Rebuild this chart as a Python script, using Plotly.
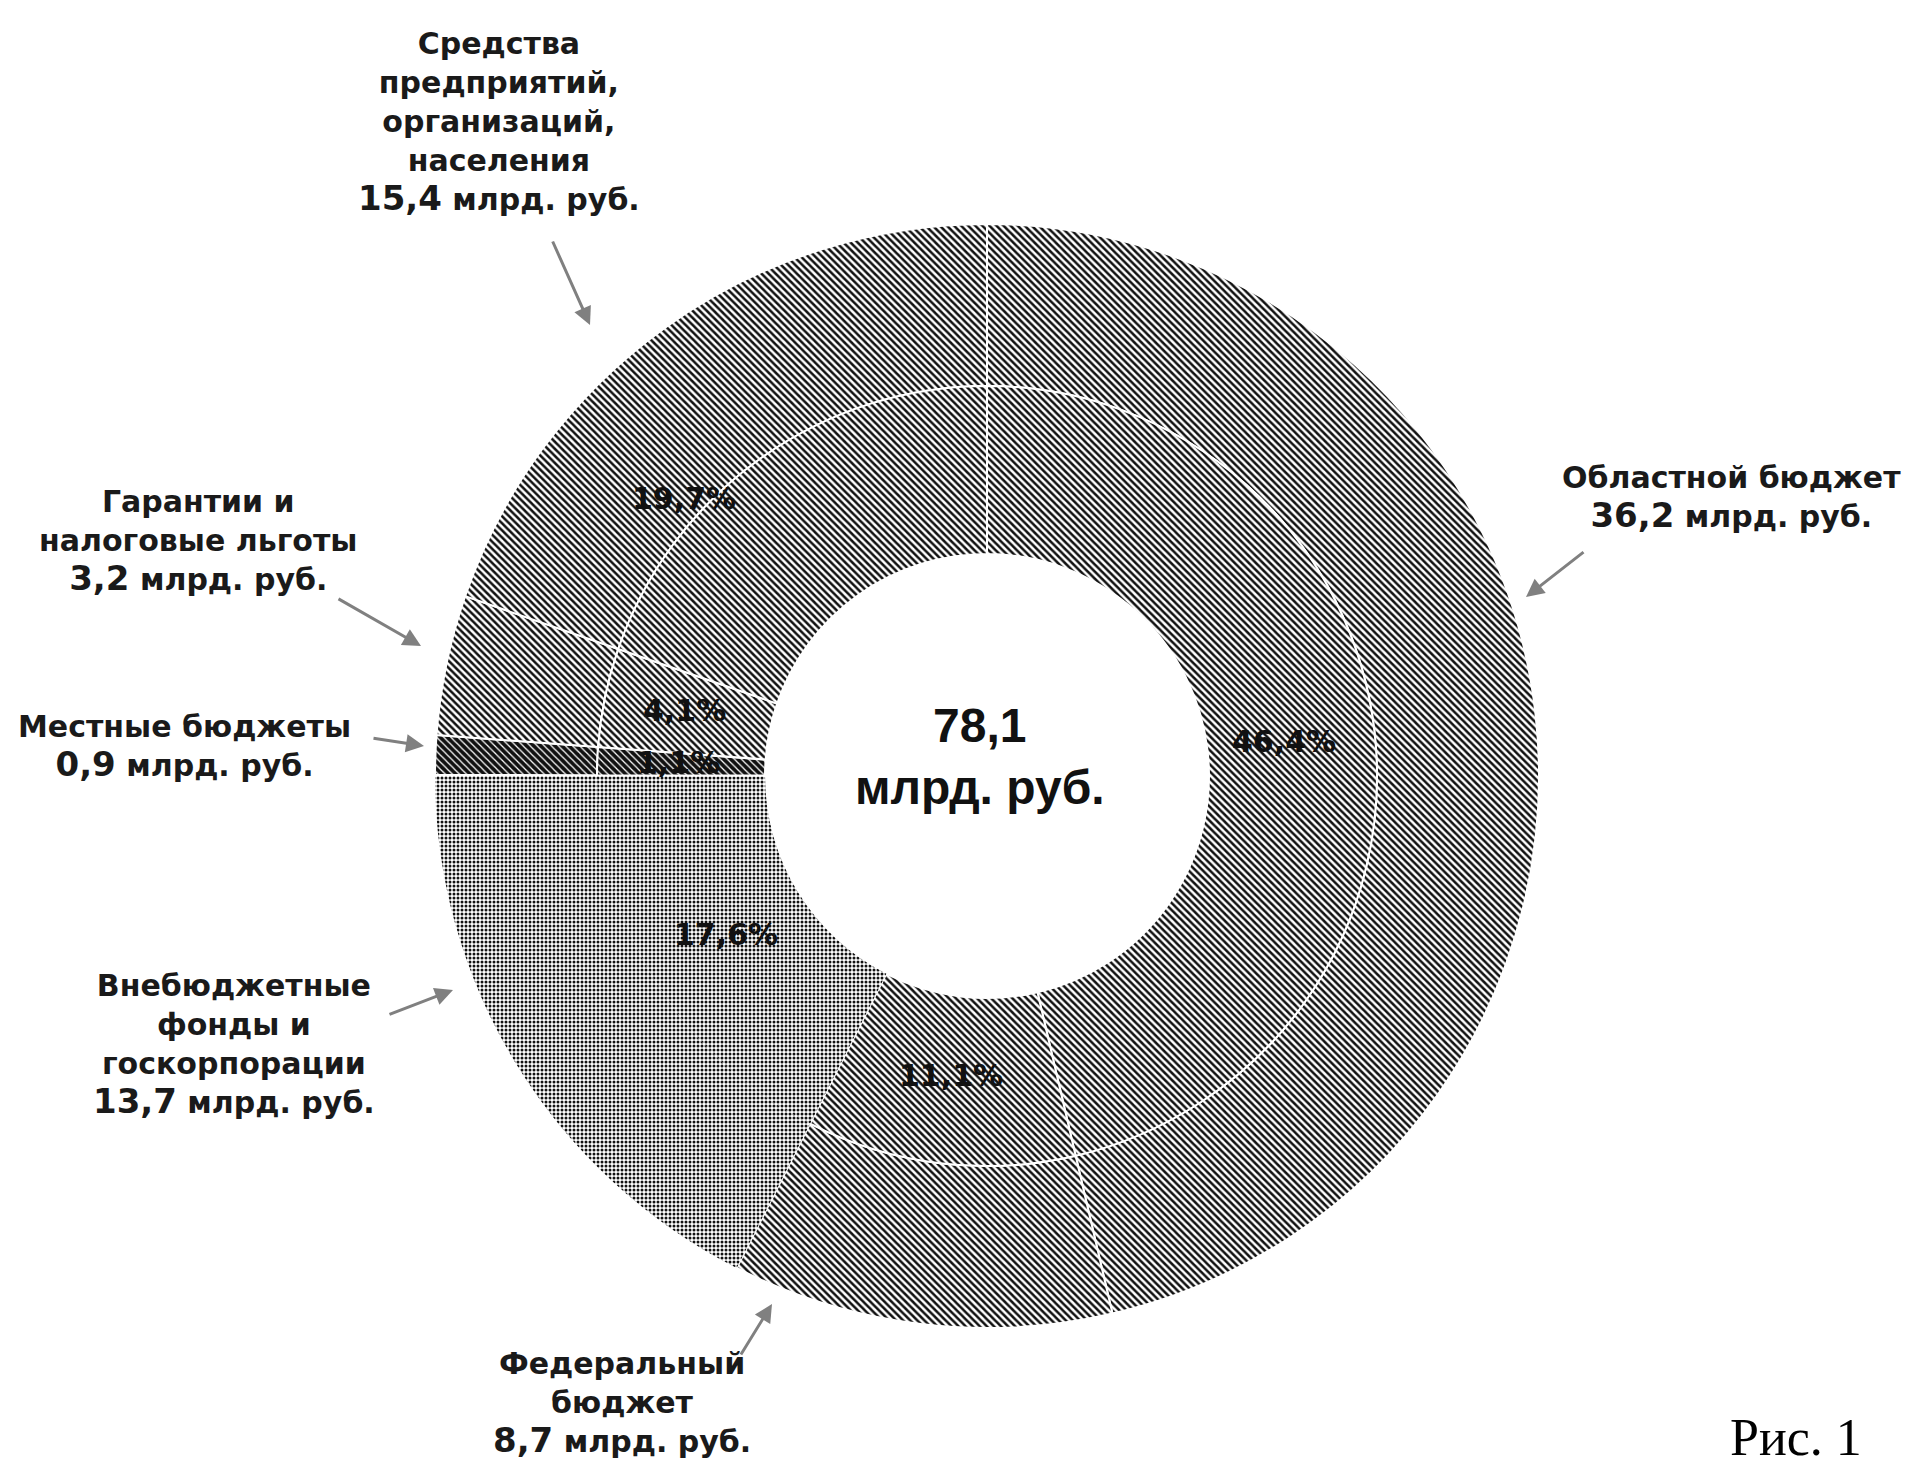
import plotly.graph_objects as go

# ---------------- data ----------------
categories = [
    "Областной бюджет",
    "Федеральный бюджет",
    "Внебюджетные фонды и госкорпорации",
    "Местные бюджеты",
    "Гарантии и налоговые льготы",
    "Средства предприятий, организаций, населения",
]
amounts = [36.2, 8.7, 13.7, 0.9, 3.2, 15.4]          # млрд. руб.
shares = [46.4, 11.1, 17.6, 1.1, 4.1, 19.7]           # %
total = 78.1
label_lines = [
    ["Областной бюджет"],
    ["Федеральный", "бюджет"],
    ["Внебюджетные", "фонды и", "госкорпорации"],
    ["Местные бюджеты"],
    ["Гарантии и", "налоговые льготы"],
    ["Средства", "предприятий,", "организаций,", "населения"],
]

# ---------------- styles ----------------
W, H = 1914, 1469
FONT = "DejaVu Sans, Verdana, sans-serif"
pat_shape = ["\\", "\\", ".", "\\", "\\", "\\"]
pat_solid = [0.5, 0.5, 0.45, 0.75, 0.5, 0.5]
pat_size = [5, 5, 4, 5, 5, 5]
line_w = [2, 2, 0, 2, 2, 2]


def fx(x):
    return x / W


def fy(y):
    return 1 - y / H


def fmt(v):
    return f"{v:.1f}".replace(".", ",")


cx, cy = 987, 776
R_out, R_mid, R_in = 552, 390, 222

marker = dict(
    colors=["white"] * len(amounts),
    line=dict(color="white", width=line_w),
    pattern=dict(shape=pat_shape, solidity=pat_solid, size=pat_size,
                 fgcolor="#111111", bgcolor="white", fillmode="replace"),
)

fig = go.Figure()
fig.add_trace(go.Pie(
    values=amounts, labels=categories, sort=False, direction="clockwise",
    rotation=0, hole=R_mid / R_out, marker=marker, textinfo="none",
    showlegend=False,
    domain=dict(x=[fx(cx - R_out), fx(cx + R_out)], y=[fy(cy + R_out), fy(cy - R_out)]),
))
fig.add_trace(go.Pie(
    values=amounts, labels=categories, sort=False, direction="clockwise",
    rotation=0, hole=R_in / R_mid, marker=marker, textinfo="none",
    showlegend=False,
    domain=dict(x=[fx(cx - R_mid), fx(cx + R_mid)], y=[fy(cy + R_mid), fy(cy - R_mid)]),
))

# percentage labels on the inner ring (pixel positions as in the reference)
pct_pos = [(1284, 741), (951, 1075), (726, 935), (678, 762), (684, 710), (684, 498)]
for s, (px, py) in zip(shares, pct_pos):
    fig.add_annotation(x=fx(px), y=fy(py), xref="paper", yref="paper",
                       text=fmt(s) + "%", showarrow=False,
                       xanchor="center", yanchor="middle",
                       font=dict(family=FONT, size=30, color="#111111", weight="bold"))

# outside labels: (text centre x, y) and arrow (tail, head) in pixels
label_pos = [(1731, 497), (622, 1403), (234, 1044), (184, 746), (198, 541), (499, 122)]
arrows = [((1585, 551), (1526, 597)),
          ((740, 1356), (772, 1304)),
          ((388, 1015), (453, 990)),
          ((372, 738), (424, 746)),
          ((337, 598), (421, 646)),
          ((552, 240), (590, 325))]

for lines, amt, (lx, ly), (tail, head) in zip(label_lines, amounts, label_pos, arrows):
    txt = ("<br>".join(lines)
           + f"<br><span style='font-size:34px'>{fmt(amt)}</span> млрд. руб.")
    fig.add_annotation(x=fx(lx), y=fy(ly), xref="paper", yref="paper",
                       text=txt, showarrow=False, align="center",
                       xanchor="center", yanchor="middle",
                       font=dict(family=FONT, size=30, color="#1a1a1a", weight="bold"))
    fig.add_annotation(x=fx(head[0]), y=fy(head[1]), xref="paper", yref="paper",
                       ax=tail[0] - head[0], ay=tail[1] - head[1], text="",
                       showarrow=True, arrowhead=2, arrowsize=1.2, arrowwidth=3,
                       arrowcolor="#808080")

# centre total
fig.add_annotation(x=fx(980), y=fy(756), xref="paper", yref="paper",
                   text=f"{fmt(total)}<br>млрд. руб.", showarrow=False,
                   xanchor="center", yanchor="middle",
                   font=dict(family="Liberation Sans, Arial, sans-serif", size=48,
                             color="#111111", weight="bold"))

# figure caption
fig.add_annotation(x=fx(1796), y=0, xref="paper", yref="paper",
                   text="Рис. 1", showarrow=False, xanchor="center", yanchor="bottom",
                   yshift=1,
                   font=dict(family="Liberation Serif, Times New Roman, serif", size=52,
                             color="#000000"))

fig.update_layout(
    width=W, height=H, margin=dict(l=0, r=0, t=0, b=0),
    paper_bgcolor="white", plot_bgcolor="white",
    font=dict(family=FONT),
)

fig.write_html(
    "out.html",
    config={"displayModeBar": False},
    post_script="document.body.style.margin='0px';document.body.style.overflow='hidden';",
)
